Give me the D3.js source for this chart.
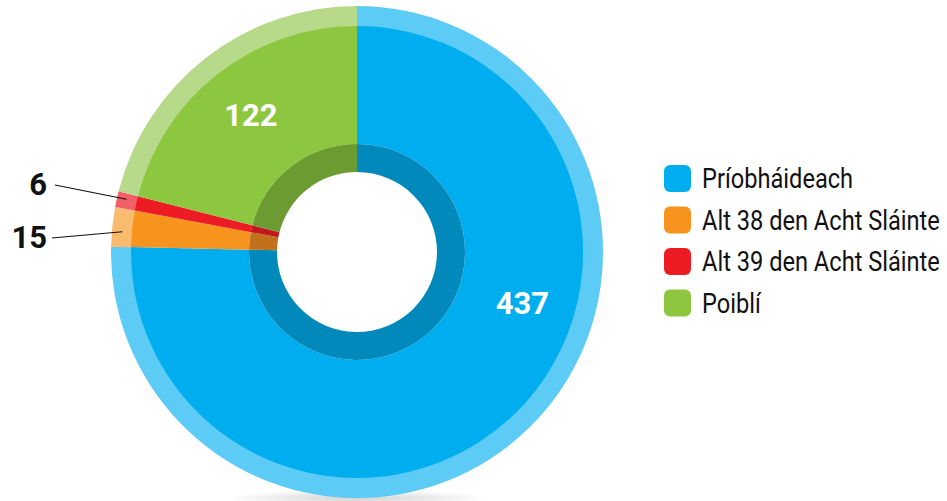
<!DOCTYPE html>
<html>
<head>
<meta charset="utf-8">
<script src="https://cdn.jsdelivr.net/npm/d3@7"></script>
<style>
  body { margin: 0; background: #fff; }
  svg { display: block; }
</style>
</head>
<body>
<div class="chart"></div>
<script>
var categories = ["Príobháideach", "Alt 38 den Acht Sláinte", "Alt 39 den Acht Sláinte", "Poiblí"];
var values = [437, 15, 6, 122];
var mainColors = ["#00aeef", "#f7941d", "#ed1c24", "#8dc63f"];
var lightColors = ["#5ccbf6", "#f9bc6f", "#f26066", "#b6d98a"];
var darkColors = ["#0089ba", "#c1711b", "#c3161d", "#6b9b31"];

var width = 947, height = 501;
var cx = 357, cy = 252;

var svg = d3.select(".chart").append("svg")
    .attr("width", width)
    .attr("height", height);

var defs = svg.append("defs");
var grad = defs.append("radialGradient").attr("id", "shadow");
grad.append("stop").attr("offset", "0%").attr("stop-color", "#000").attr("stop-opacity", 0.18);
grad.append("stop").attr("offset", "100%").attr("stop-color", "#000").attr("stop-opacity", 0);

svg.append("ellipse")
    .attr("cx", cx).attr("cy", cy + 246)
    .attr("rx", 130).attr("ry", 8)
    .attr("fill", "url(#shadow)");

var data = categories.map(function (c, i) { return { name: c, value: values[i], i: i }; });

var pie = d3.pie().sort(null).value(function (d) { return d.value; });
var arcs = pie(data);

var g = svg.append("g").attr("transform", "translate(" + cx + "," + cy + ")");

var outerArc = d3.arc().innerRadius(225).outerRadius(246);
var mainArc = d3.arc().innerRadius(108).outerRadius(226);
var darkArc = d3.arc().innerRadius(80).outerRadius(108);

g.selectAll("path.outer").data(arcs).enter().append("path")
    .attr("class", "outer")
    .attr("d", outerArc)
    .attr("fill", function (d) { return lightColors[d.data.i]; });

g.selectAll("path.main").data(arcs).enter().append("path")
    .attr("class", "main")
    .attr("d", mainArc)
    .attr("fill", function (d) { return mainColors[d.data.i]; });

g.selectAll("path.dark").data(arcs).enter().append("path")
    .attr("class", "dark")
    .attr("d", darkArc)
    .attr("fill", function (d) { return darkColors[d.data.i]; });

function pointAt(angle, r) {
    return [r * Math.sin(angle), -r * Math.cos(angle)];
}

// labels inside the big slices
arcs.forEach(function (d) {
    var span = d.endAngle - d.startAngle;
    if (span < 0.5) return;
    var a = span > Math.PI ? d.startAngle + span * 0.395 : (d.startAngle + d.endAngle) / 2;
    var p = pointAt(a, 173);
    g.append("text")
        .attr("x", p[0]).attr("y", p[1] + 11)
        .attr("text-anchor", "middle")
        .attr("fill", "#fff")
        .style("font-family", "Roboto, 'Liberation Sans', sans-serif")
        .style("font-weight", "bold")
        .style("font-size", "31px")
        .text(d.data.value);
});

// leader labels for the thin slices
var small = arcs.filter(function (d) { return d.endAngle - d.startAngle < 0.5; });
small.forEach(function (d) {
    var mid = (d.startAngle + d.endAngle) / 2;
    var p = pointAt(mid, 236);
    var isRed = d.data.i === 2;
    var lx = isRed ? 55 - cx : 52 - cx;
    var ly = isRed ? 185 - cy : 238 - cy;
    g.append("line")
        .attr("x1", lx).attr("y1", ly)
        .attr("x2", p[0]).attr("y2", p[1] + (isRed ? -2 : 4))
        .attr("stroke", "#111")
        .attr("stroke-width", 1.2);
    g.append("text")
        .attr("x", 47 - cx)
        .attr("y", ly + 10)
        .attr("text-anchor", "end")
        .attr("fill", "#111")
        .style("font-family", "Roboto, 'Liberation Sans', sans-serif")
        .style("font-weight", "bold")
        .style("font-size", "31px")
        .text(d.data.value);
});

// legend
var legend = svg.append("g").attr("transform", "translate(664,165)");
var rows = legend.selectAll("g").data(data).enter().append("g")
    .attr("transform", function (d, i) { return "translate(0," + (i * 41.5) + ")"; });

rows.append("rect")
    .attr("width", 27).attr("height", 27)
    .attr("rx", 6).attr("ry", 6)
    .attr("fill", function (d) { return mainColors[d.i]; });

var labels = rows.append("text")
    .attr("y", 23)
    .attr("fill", "#111")
    .style("font-family", "Roboto, sans-serif")
    .style("font-size", "28px")
    .text(function (d) { return d.name; });

// squeeze to a condensed look so the longest label ends near the right edge
var longest = d3.max(labels.nodes(), function (n) { return n.getComputedTextLength(); });
var squeeze = Math.min(1, 238 / longest);
labels.attr("transform", "translate(38,0) scale(" + squeeze + ",1)");
</script>
</body>
</html>
